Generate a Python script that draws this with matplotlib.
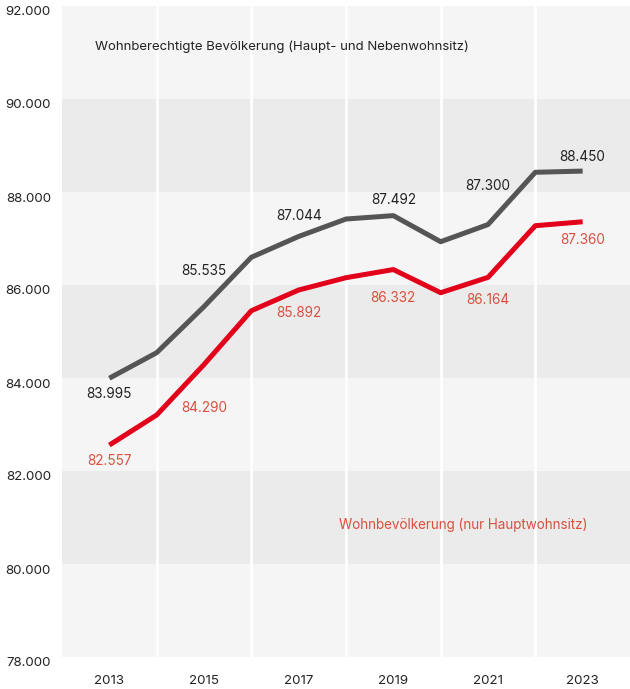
import numpy as np
import matplotlib.pyplot as plt
import matplotlib.transforms as mtransforms

plt.rcParams['font.family'] = ['Inter', 'DejaVu Sans']

# Data
years = [2013, 2014, 2015, 2016, 2017, 2018, 2019, 2020, 2021, 2022, 2023]
wohnberechtigt = [83995, 84544, 85535, 86596, 87044, 87419, 87492, 86931, 87300, 88424, 88450]
wohnbev = [82557, 83204, 84290, 85447, 85892, 86157, 86332, 85834, 86164, 87275, 87360]

labeled_years = [2013, 2015, 2017, 2019, 2021, 2023]
grey_offsets = [16, -36, -20, -16, -39, -14]   # pixel offsets of the value labels
red_offsets = [16, 43, 23, 28, 23, 18]

y_ticks = [78000, 80000, 82000, 84000, 86000, 88000, 90000, 92000]

grey = '#555555'
red = '#e2001a'
red_txt = '#d9503f'
txt = '#222222'

def fmt(v):
    return f"{v:,}".replace(",", ".")

fig = plt.figure(figsize=(6.3, 6.89), dpi=100)
ax = fig.add_axes([62/630, 1-657/689, 1-62/630, 651/689])
ax.set_xlim(2012, 2024)
ax.set_ylim(78000, 92000)

# alternating horizontal bands
for i, lo in enumerate(y_ticks[:-1]):
    ax.axhspan(lo, lo + 2000, color='#f5f5f5' if i % 2 == 0 else '#ebebeb', lw=0, zorder=0)
# white vertical lines between labelled years
for x in range(2014, 2024, 2):
    ax.axvline(x, color='white', lw=2, zorder=1)

ax.plot(years, wohnberechtigt, color=grey, lw=3.6, zorder=3, solid_capstyle='butt')
ax.plot(years, wohnbev, color=red, lw=3.6, zorder=3, solid_capstyle='butt')

for y, off in zip(labeled_years, grey_offsets):
    v = wohnberechtigt[years.index(y)]
    ax.annotate(fmt(v), (y, v), xytext=(0, -off), textcoords='offset pixels',
                ha='center', va='center', fontsize=9.8, color=txt)
for y, off in zip(labeled_years, red_offsets):
    v = wohnbev[years.index(y)]
    ax.annotate(fmt(v), (y, v), xytext=(0, -off), textcoords='offset pixels',
                ha='center', va='center', fontsize=9.8, color=red_txt)

ax.text(2012.69, 91120, 'Wohnberechtigte Bevölkerung (Haupt- und Nebenwohnsitz)',
        ha='left', va='center', fontsize=9.5, color=txt)
ax.text(2023.11, 80840, 'Wohnbevölkerung (nur Hauptwohnsitz)',
        ha='right', va='center', fontsize=9.7, color=red_txt)

ax.set_xticks(labeled_years)
ax.set_xticklabels([str(y) for y in labeled_years], fontsize=9.6, color=txt)
ax.set_yticks(y_ticks)
ax.set_yticklabels([fmt(v) for v in y_ticks], fontsize=9.6, color=txt)
ax.tick_params(length=0)
ax.tick_params(axis='y', pad=8)
ax.tick_params(axis='x', pad=13)
shift = mtransforms.ScaledTranslation(0, -0.05, fig.dpi_scale_trans)
for lab in ax.get_yticklabels():
    lab.set_transform(lab.get_transform() + shift)
for s in ax.spines.values():
    s.set_visible(False)

fig.savefig('out.png', dpi=100, facecolor='white')
